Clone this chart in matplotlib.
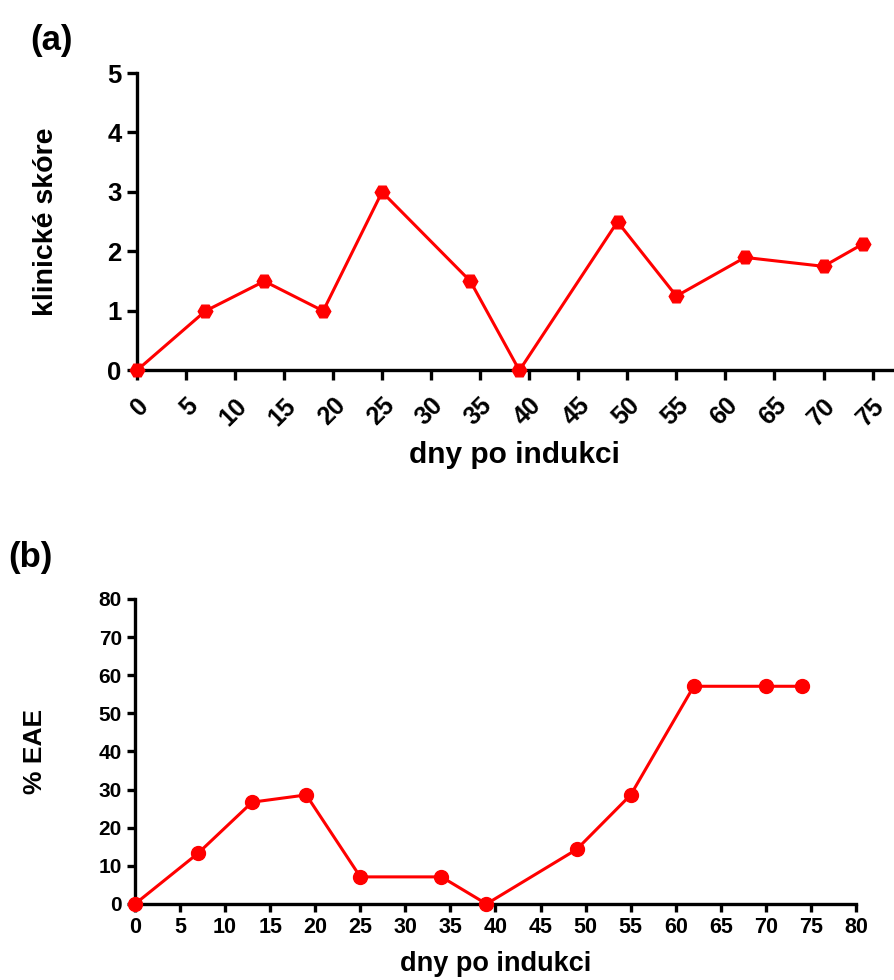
import matplotlib
matplotlib.use("Agg")
import matplotlib.pyplot as plt

plt.rcParams['font.family'] = ['Liberation Sans', 'DejaVu Sans']
plt.rcParams['font.weight'] = 'bold'

# data
days = [0, 7, 13, 19, 25, 34, 39, 49, 55, 62, 70, 74]
score = [0, 1, 1.5, 1, 3, 1.5, 0, 2.5, 1.25, 1.9, 1.75, 2.125]
eae_pct = [0, 13.3, 26.7, 28.6, 7.1, 7.1, 0, 14.3, 28.6, 57.1, 57.1, 57.1]

xticks_a = list(range(0, 80, 5))
yticks_a = [0, 1, 2, 3, 4, 5]
xticks_b = list(range(0, 85, 5))
yticks_b = list(range(0, 90, 10))

red = '#ff0000'

def style_axes(ax, ticklen):
    for s in ['top', 'right']:
        ax.spines[s].set_visible(False)
    for s in ['left', 'bottom']:
        ax.spines[s].set_linewidth(2.4)
    ax.tick_params(width=2.4, length=ticklen, direction='out')

fig = plt.figure(figsize=(8.94, 9.8), dpi=100)

# (a) clinical score
ax1 = fig.add_axes([0.153, 0.622, 0.845, 0.3035])
ax1.plot(days, score, color=red, lw=2.2, marker='H', ms=10.5, clip_on=False, zorder=3)
ax1.set_xlim(0, 77)
ax1.set_ylim(0, 5)
ax1.set_xticks(xticks_a)
ax1.set_yticks(yticks_a)
ax1.set_xticklabels([str(t) for t in xticks_a], rotation=45, ha='right', va='top',
                    rotation_mode='anchor', fontsize=18, fontweight='bold')
ax1.set_yticklabels([str(t) for t in yticks_a], fontsize=18.5, fontweight='bold')
style_axes(ax1, 7.5)
ax1.tick_params(axis='x', pad=9)
ax1.set_xlabel('dny po indukci', fontsize=21.5, fontweight='bold', va='bottom')
ax1.xaxis.set_label_coords(0.5, -0.33)
ax1.set_ylabel('klinické skóre', fontsize=20.5, fontweight='bold', va='center')
ax1.yaxis.set_label_coords(-0.1205, 0.5)
fig.text(0.0336, 0.959, '(a)', fontsize=25, fontweight='bold', va='center')

# (b) % EAE
ax2 = fig.add_axes([0.151, 0.0776, 0.8065, 0.3112])
ax2.plot(days, eae_pct, color=red, lw=2.2, marker='o', ms=10, clip_on=False, zorder=3)
ax2.set_xlim(0, 80)
ax2.set_ylim(0, 80)
ax2.set_xticks(xticks_b)
ax2.set_yticks(yticks_b)
ax2.set_xticklabels([str(t) for t in xticks_b], fontsize=15.5, fontweight='bold')
ax2.set_yticklabels([str(t) for t in yticks_b], fontsize=15, fontweight='bold')
style_axes(ax2, 6)
ax2.set_xlabel('dny po indukci', fontsize=19.5, fontweight='bold', va='bottom')
ax2.xaxis.set_label_coords(0.5, -0.238)
ax2.set_ylabel('% EAE', fontsize=19, fontweight='bold', va='center')
ax2.yaxis.set_label_coords(-0.1387, 0.5)
fig.text(0.009, 0.4316, '(b)', fontsize=25, fontweight='bold', va='center')

fig.savefig('out.png', dpi=100)
